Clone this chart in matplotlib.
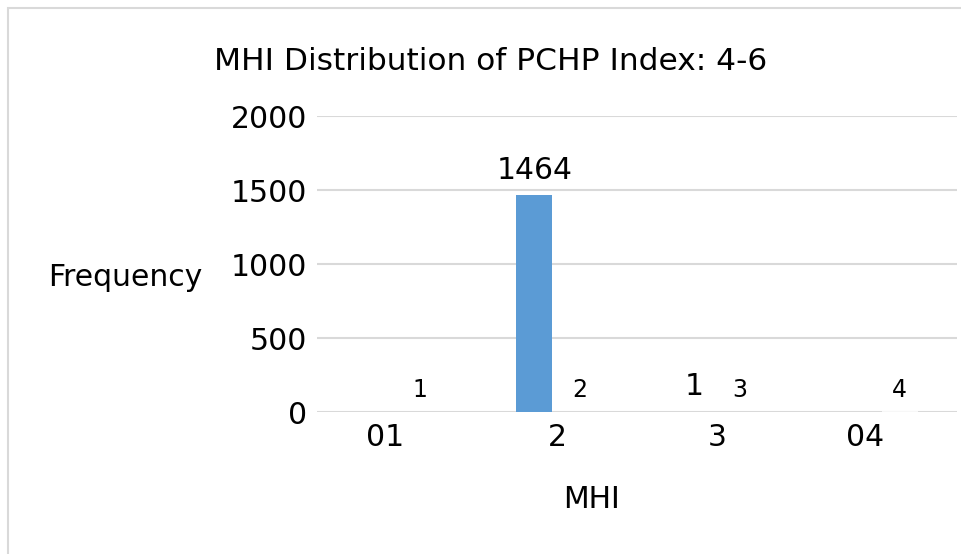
import matplotlib
matplotlib.use("Agg")
import matplotlib.pyplot as plt
import numpy as np
from matplotlib.patches import Rectangle
from matplotlib.transforms import ScaledTranslation

categories = ["01", "2", "3", "04"]
freq_values = [0, 1464, 1, 0]
freq_labels = ["", "1464", "1", ""]
mhi_values = [1, 2, 3, 4]
mhi_labels = ["1", "2", "3", "4"]
yticks = [0, 500, 1000, 1500, 2000]

plt.rcParams['font.family'] = ['DejaVu Sans']

W, H = 962, 554
fig = plt.figure(figsize=(W / 100, H / 100), dpi=100)
fig.patch.set_facecolor("white")

# chart border
fig.add_artist(Rectangle((8 / W, -0.05), 1.2, 1 - 8 / H + 0.05, transform=fig.transFigure,
                         fill=False, edgecolor="#d9d9d9", linewidth=1.5))

ax = fig.add_axes([317 / W, 1 - 412 / H, 640 / W, (412 - 116) / H])
x = np.arange(len(categories))
bw = 0.225
off = 0.141
ax.bar(x - off, freq_values, width=bw, color="#5b9bd5", zorder=3)
ax.bar(x + off, mhi_values, width=bw, color="#f7f7f7", zorder=3)

for xi, v, lab in zip(x, freq_values, freq_labels):
    if lab:
        ax.annotate(lab, (xi - off, v), xytext=(0, 18), textcoords="offset points",
                    ha="center", va="center", fontsize=21.5, color="#000000")
for xi, v, lab in zip(x, mhi_values, mhi_labels):
    ax.annotate(lab, (xi + off, v), xytext=(0, 15.5), textcoords="offset points",
                ha="center", va="center", fontsize=17, color="#000000")

ax.set_xlim(-0.5, len(categories) - 0.5)
ax.set_ylim(0, 2000)
ax.set_yticks(yticks)
ax.set_yticklabels([str(t) for t in yticks], fontsize=21.5)
ax.set_xticks(x)
ax.set_xticklabels(categories, fontsize=21.5)
ax.tick_params(axis="y", length=0, pad=7)
ax.tick_params(axis="x", length=0, pad=8)
# two-character category labels sit slightly left of the group centre, as in the original
for t in ax.get_xticklabels():
    if len(t.get_text()) > 1:
        t.set_transform(t.get_transform() + ScaledTranslation(-12 / 100, 0, fig.dpi_scale_trans))
ax.grid(axis="y", color="#d9d9d9", linewidth=1.5, zorder=0)
for s in ax.spines.values():
    s.set_visible(False)
ax.set_axisbelow(True)

fig.text(491 / W, 1 - 61 / H, "MHI Distribution of PCHP Index: 4-6", ha="center", va="center",
         fontsize=22.5, color="#000000")
fig.text(125 / W, 1 - 278 / H, "Frequency", ha="center", va="center", fontsize=21.5)
fig.text(592 / W, 1 - 500 / H, "MHI", ha="center", va="center", fontsize=21.5)

fig.savefig("out.png", dpi=100, facecolor="white")
